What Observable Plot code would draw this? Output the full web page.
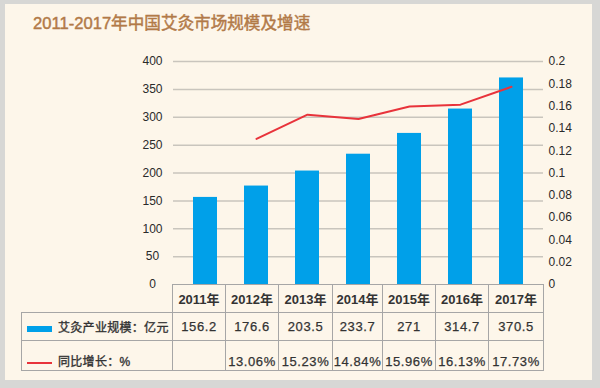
<!DOCTYPE html>
<html><head><meta charset="utf-8">
<script src="https://cdn.jsdelivr.net/npm/d3@7"></script>
<script src="https://cdn.jsdelivr.net/npm/@observablehq/plot@0.6"></script>
<style>
body{margin:0;background:#fff;}
#wrap{position:relative;width:600px;height:388px;background:#d7d7d5;overflow:hidden;font-family:"Liberation Sans","Noto Sans CJK SC",sans-serif;}
#panel{position:absolute;left:5px;top:4px;width:587px;height:376px;background:#fdf6ea;}
#title{position:absolute;left:33px;top:14px;font-size:16.6px;font-weight:normal;-webkit-text-stroke:0.45px #b27a48;color:#b27a48;white-space:nowrap;line-height:20px;}
#chart{position:absolute;left:0;top:0;}
#tbl{position:absolute;left:21px;top:284px;border-collapse:collapse;table-layout:fixed;color:#333;}
#tbl td{border:1.5px solid #a6a6a6;padding:0;text-align:center;font-size:13px;letter-spacing:0.6px;white-space:nowrap;overflow:visible;-webkit-text-stroke:0.25px #333;}
#tbl td.blank{border-top:none;border-left:none;}
#tbl tr.hdr td{height:27px;font-weight:bold;letter-spacing:0;-webkit-text-stroke:0;}
#tbl tr.r2 td{height:27px;}
#tbl tr.r3 td{height:28px;vertical-align:bottom;padding-bottom:1px;}
#tbl td.leg{text-align:left;font-size:12px;letter-spacing:0.3px;padding-left:5px;-webkit-text-stroke:0.35px #333;}
.sw{display:inline-block;width:25px;vertical-align:middle;margin-right:6px;}
</style>
</head><body>
<div id="wrap">
  <div id="panel"></div>
  <div id="chart"></div>
  <div id="title"></div>
  <table id="tbl"></table>
</div>
<script>
const title = "2011-2017年中国艾灸市场规模及增速";
const years = ["2011年","2012年","2013年","2014年","2015年","2016年","2017年"];
const marketSize = [156.2, 176.6, 203.5, 233.7, 271, 314.7, 370.5];
const growth = [null, 0.1306, 0.1523, 0.1484, 0.1596, 0.1613, 0.1773];
const sizeLabels = ["156.2","176.6","203.5","233.7","271","314.7","370.5"];
const growthLabels = ["","13.06%","15.23%","14.84%","15.96%","16.13%","17.73%"];
const leftTicks = [0, 50, 100, 150, 200, 250, 300, 350, 400];
const rightTicks = [0, 0.02, 0.04, 0.06, 0.08, 0.1, 0.12, 0.14, 0.16, 0.18, 0.2];
const rightTickLabels = ["0","0.02","0.04","0.06","0.08","0.1","0.12","0.14","0.16","0.18","0.2"];
const legendSize = "艾灸产业规模：亿元";
const legendGrowth = "同比增长：%";
const colWidths = [151, 53, 53, 54, 50, 53, 53, 55];

const BLUE = "#00a0e9", RED = "#e8333b";
const ratio = 400 / 0.2; // right axis -> left axis units

document.getElementById("title").textContent = title;

const rows = years.map((year, i) => ({year, size: marketSize[i], growth: growth[i]}));
const lineRows = rows.filter(d => d.growth != null);

const chart = Plot.plot({
  width: 600,
  height: 388,
  marginLeft: 173,
  marginRight: 57,
  marginTop: 61,
  marginBottom: 104,
  style: {background: "transparent", fontFamily: "'Liberation Sans','Noto Sans CJK SC',sans-serif"},
  x: {type: "band", domain: years, paddingInner: 0.53, paddingOuter: 0.385, axis: null},
  y: {domain: [0, 400], axis: null},
  marks: [
    Plot.ruleY(leftTicks.filter(t => t > 0), {stroke: "#c9c5bd", strokeWidth: 1.5}),
    Plot.barY(rows, {x: "year", y: "size", fill: BLUE}),
    Plot.line(lineRows, {x: "year", y: d => d.growth * ratio, stroke: RED, strokeWidth: 2}),
    Plot.axisY({ticks: leftTicks, label: null, tickSize: 0, tickPadding: 21, textAnchor: "middle", fontSize: 12, fill: "#2a2a2a", stroke: "#2a2a2a", strokeWidth: 0.25, tickFormat: d => String(d)}),
    Plot.axisY({anchor: "right", label: null, ticks: rightTicks.map(t => t * ratio), tickSize: 0, tickPadding: 5, fontSize: 12, fill: "#2a2a2a", stroke: "#2a2a2a", strokeWidth: 0.25,
      tickFormat: (d, i) => rightTickLabels[i]})
  ]
});
document.getElementById("chart").appendChild(chart);

// table
const tbl = document.getElementById("tbl");
const cg = document.createElement("colgroup");
colWidths.forEach(w => { const c = document.createElement("col"); c.style.width = w + "px"; cg.appendChild(c); });
tbl.appendChild(cg);
function addRow(cls, first, cells) {
  const tr = document.createElement("tr"); tr.className = cls;
  tr.appendChild(first);
  cells.forEach(t => { const td = document.createElement("td"); td.textContent = t; tr.appendChild(td); });
  tbl.appendChild(tr);
}
const blank = document.createElement("td"); blank.className = "blank";
addRow("hdr", blank, years);
const leg1 = document.createElement("td"); leg1.className = "leg";
leg1.innerHTML = `<span class="sw" style="height:6px;background:${BLUE}"></span>`;
leg1.appendChild(document.createTextNode(legendSize));
addRow("r2", leg1, sizeLabels);
const leg2 = document.createElement("td"); leg2.className = "leg";
leg2.innerHTML = `<span class="sw" style="height:2px;background:${RED}"></span>`;
leg2.appendChild(document.createTextNode(legendGrowth));
addRow("r3", leg2, growthLabels);
</script>
</body></html>
